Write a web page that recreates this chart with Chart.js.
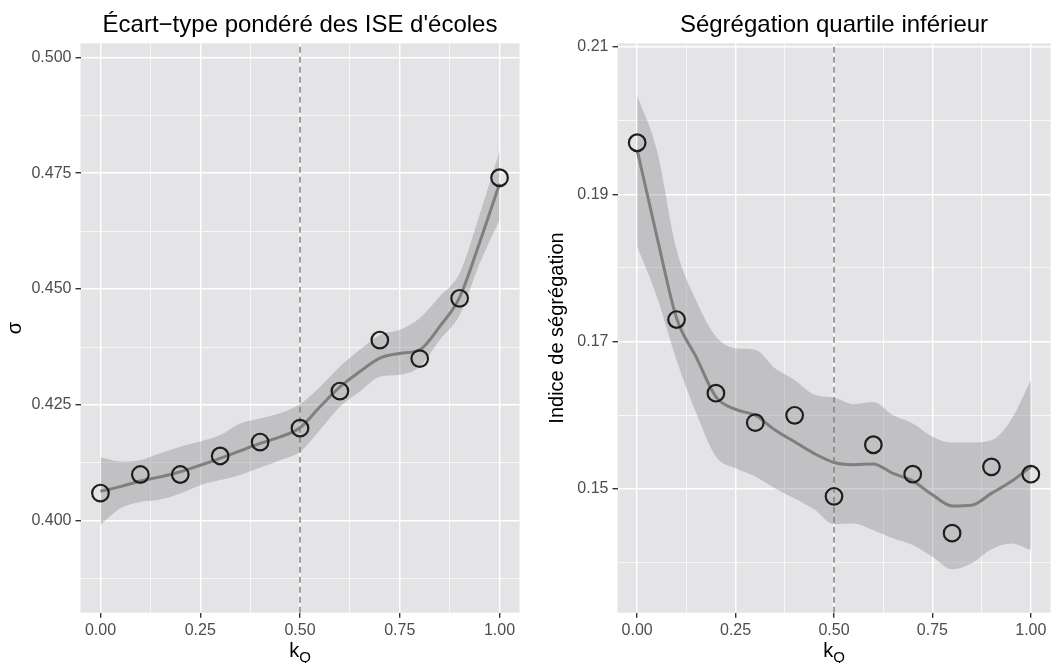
<!DOCTYPE html>
<html>
<head>
<meta charset="utf-8">
<script src="https://cdn.jsdelivr.net/npm/chart.js@4/dist/chart.umd.min.js"></script>
<style>
  html, body { margin: 0; padding: 0; background: #fff; }
  #wrap { position: relative; width: 1061px; height: 663px; }
  .pane { position: absolute; top: 0; height: 663px; }
  #left { left: 0; width: 530px; }
  #right { left: 530px; width: 531px; }
</style>
</head>
<body>
<div id="wrap">
  <div class="pane" id="left"><canvas id="chartSigma"></canvas></div>
  <div class="pane" id="right"><canvas id="chartSeg"></canvas></div>
</div>
<script>
const FONT = '"Liberation Sans", Arial, sans-serif';

// observed values, k_Q = 0 .. 1
const kq = [0, 0.1, 0.2, 0.3, 0.4, 0.5, 0.6, 0.7, 0.8, 0.9, 1.0];
const sigmaPts = [0.406, 0.410, 0.410, 0.414, 0.417, 0.420, 0.428, 0.439, 0.435, 0.448, 0.474];
const segPts = [0.197, 0.173, 0.163, 0.159, 0.160, 0.149, 0.156, 0.152, 0.144, 0.153, 0.152];

// loess fit + confidence band, read at k_Q step 0.05
const fitX = [0, 0.05, 0.1, 0.15, 0.2, 0.25, 0.3, 0.35, 0.4, 0.45, 0.5, 0.55, 0.6, 0.65, 0.7, 0.75, 0.8, 0.85, 0.9, 0.95, 1.0];
const sigmaFit = [0.4064, 0.4074, 0.4086, 0.4095, 0.4106, 0.4120, 0.4135, 0.4151, 0.4167, 0.4181, 0.4201, 0.4246, 0.4289, 0.4322, 0.4351, 0.4361, 0.4369, 0.4419, 0.4482, 0.4600, 0.4727];
const sigmaHi = [0.4137, 0.4128, 0.4131, 0.4146, 0.4160, 0.4171, 0.4185, 0.4210, 0.4221, 0.4232, 0.4252, 0.4289, 0.4333, 0.4369, 0.4401, 0.4412, 0.4437, 0.4484, 0.4534, 0.4660, 0.4797];
const sigmaLo = [0.3991, 0.4027, 0.4041, 0.4046, 0.4059, 0.4077, 0.4088, 0.4099, 0.4115, 0.4131, 0.4149, 0.4196, 0.4246, 0.4279, 0.4311, 0.4315, 0.4333, 0.4390, 0.4444, 0.4555, 0.4649];
const segFit = [0.1960, 0.1843, 0.1732, 0.1679, 0.1625, 0.1608, 0.1600, 0.1580, 0.1564, 0.1548, 0.1536, 0.1533, 0.1534, 0.1521, 0.1511, 0.1492, 0.1477, 0.1478, 0.1494, 0.1510, 0.1530];
const segHi = [0.2034, 0.1960, 0.1825, 0.1756, 0.1707, 0.1691, 0.1689, 0.1664, 0.1648, 0.1628, 0.1624, 0.1615, 0.1618, 0.1600, 0.1589, 0.1571, 0.1563, 0.1563, 0.1566, 0.1594, 0.1648];
const segLo = [0.1829, 0.1761, 0.1675, 0.1603, 0.1544, 0.1528, 0.1517, 0.1501, 0.1487, 0.1472, 0.1452, 0.1453, 0.1444, 0.1433, 0.1424, 0.1408, 0.1391, 0.1399, 0.1418, 0.1426, 0.1417];

// axes
const xLimits = [-0.05, 1.05];
const xTicks = [0, 0.125, 0.25, 0.375, 0.5, 0.625, 0.75, 0.875, 1.0];
const xMajor = [0, 0.25, 0.5, 0.75, 1.0];
const sigmaLimits = [0.3802, 0.5030];
const sigmaTicks = [0.3875, 0.400, 0.4125, 0.425, 0.4375, 0.450, 0.4625, 0.475, 0.4875, 0.500];
const sigmaMajor = [0.400, 0.425, 0.450, 0.475, 0.500];
const segLimits = [0.1332, 0.2105];
const segTicks = [0.14, 0.15, 0.16, 0.17, 0.18, 0.19, 0.20, 0.21];
const segMajor = [0.15, 0.17, 0.19, 0.21];
const vlineX = 0.5;

const toXY = (xs, ys) => xs.map((x, i) => ({ x, y: ys[i] }));

const panelDecor = {
  id: "panelDecor",
  beforeDraw(chart, args, opts) {
    const { ctx, chartArea: a } = chart;
    ctx.save();
    ctx.fillStyle = "#E4E4E6";
    ctx.fillRect(a.left, a.top, a.right - a.left, a.bottom - a.top);
    ctx.restore();
  },
  afterDraw(chart, args, opts) {
    const { ctx, chartArea: a } = chart;
    const cx = (a.left + a.right) / 2;
    ctx.save();
    ctx.fillStyle = "#000";
    ctx.textBaseline = "alphabetic";
    ctx.textAlign = "center";
    ctx.font = "24px " + FONT;
    ctx.fillText(opts.title, cx, 32);
    // x title: k with subscript Q
    ctx.font = "20px " + FONT;
    const kw = ctx.measureText("k").width;
    ctx.font = "15px " + FONT;
    const qw = ctx.measureText("Q").width;
    const x0 = cx - (kw + qw) / 2;
    ctx.textAlign = "left";
    ctx.font = "20px " + FONT;
    ctx.fillText("k", x0, 656.5);
    ctx.font = "15px " + FONT;
    ctx.fillText("Q", x0 + kw, 661.5);
    ctx.restore();
  },
};

function gridOpts(major) {
  return {
    color: "#FFFFFF",
    lineWidth: (c) => (major.includes(c.tick.value) ? 1.4 : 0.7),
    tickColor: (c) => (major.includes(c.tick.value) ? "#333333" : "rgba(0,0,0,0)"),
    tickLength: 5,
    tickWidth: 1.4,
  };
}

function makeChart(id, cfg) {
  return new Chart(document.getElementById(id), {
    type: "line",
    data: {
      datasets: [
        { data: toXY(kq, cfg.pts), showLine: false, pointRadius: 8.3, pointBorderWidth: 2.2, pointBorderColor: "#1e1e1e", pointBackgroundColor: "rgba(0,0,0,0)", order: 1 },
        { data: toXY(fitX, cfg.fit), borderColor: "#7f7f7f", borderWidth: 3, pointRadius: 0, cubicInterpolationMode: "monotone", fill: false, order: 2 },
        { data: [{ x: vlineX, y: cfg.yLim[0] }, { x: vlineX, y: cfg.yLim[1] }], borderColor: "#7a7a7a", borderWidth: 1.4, borderDash: [6, 4], pointRadius: 0, fill: false, order: 3 },
        { data: toXY(fitX, cfg.hi), borderWidth: 0, borderColor: "rgba(0,0,0,0)", pointRadius: 0, cubicInterpolationMode: "monotone", fill: "+1", backgroundColor: "rgba(140,140,146,0.4)", order: 4 },
        { data: toXY(fitX, cfg.lo), borderWidth: 0, borderColor: "rgba(0,0,0,0)", pointRadius: 0, cubicInterpolationMode: "monotone", fill: false, order: 4 },
      ],
    },
    options: {
      responsive: true,
      maintainAspectRatio: false,
      animation: false,
      events: [],
      layout: { padding: { top: 43.3, right: cfg.padRight, bottom: 0, left: 0 } },
      plugins: { legend: { display: false }, tooltip: { enabled: false }, panelDecor: { title: cfg.title } },
      scales: {
        x: {
          type: "linear", min: xLimits[0], max: xLimits[1],
          afterBuildTicks: (s) => { s.ticks = xTicks.map((v) => ({ value: v })); },
          afterFit: (s) => { s.height = 50.3; },
          ticks: { autoSkip: false, maxRotation: 0, padding: 3, color: "#4D4D4D", font: { family: FONT, size: 16 },
            callback: (v) => (xMajor.includes(v) ? v.toFixed(2) : "") },
          grid: gridOpts(xMajor),
          border: { display: false },
        },
        y: {
          type: "linear", min: cfg.yLim[0], max: cfg.yLim[1],
          afterBuildTicks: (s) => { s.ticks = cfg.yTicks.map((v) => ({ value: v })); },
          afterFit: (s) => { s.width = cfg.yWidth; },
          ticks: { autoSkip: false, padding: 4, color: "#4D4D4D", font: { family: FONT, size: 16 },
            callback: (v) => (cfg.yMajor.includes(v) ? v.toFixed(cfg.digits) : "") },
          grid: gridOpts(cfg.yMajor),
          border: { display: false },
          title: { display: true, text: cfg.yTitle, color: "#000", font: { family: FONT, size: 20 }, padding: { top: cfg.yTitlePad, bottom: 0 } },
        },
      },
    },
    plugins: [panelDecor],
  });
}

makeChart("chartSigma", {
  pts: sigmaPts, fit: sigmaFit, hi: sigmaHi, lo: sigmaLo,
  yLim: sigmaLimits, yTicks: sigmaTicks, yMajor: sigmaMajor, digits: 3,
  yWidth: 80.5, padRight: 6.5, yTitle: "σ", yTitlePad: 3,
  title: "Écart−type pondéré des ISE d'écoles",
});

makeChart("chartSeg", {
  pts: segPts, fit: segFit, hi: segHi, lo: segLo,
  yLim: segLimits, yTicks: segTicks, yMajor: segMajor, digits: 2,
  yWidth: 87.5, padRight: 0, yTitle: "Indice de ségrégation", yTitlePad: 15,
  title: "Ségrégation quartile inférieur",
});
</script>
</body>
</html>
